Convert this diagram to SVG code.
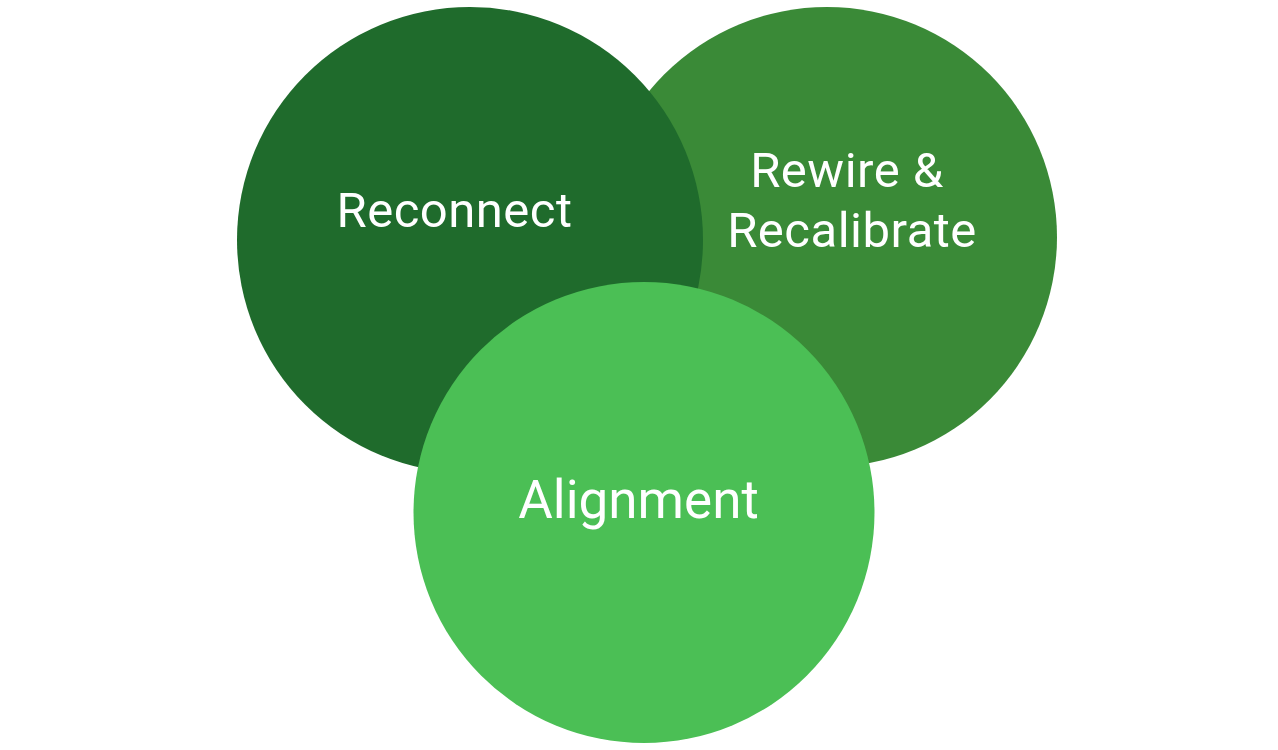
<svg xmlns="http://www.w3.org/2000/svg" width="1278" height="750" viewBox="0 0 1278 750">
<style>
.lbl{font-family:Roboto,"Liberation Sans",sans-serif;fill:#ffffff;text-anchor:middle}
.sm{font-size:49px;letter-spacing:0.5px}
</style>
<rect width="1278" height="750" fill="#ffffff"/>
<g id="node-rewire">
<circle cx="827" cy="237" r="230" fill="#3A8A37"/>
<text class="lbl sm" x="847" y="187">Rewire &amp;</text>
<text class="lbl sm" x="852" y="247">Recalibrate</text>
</g>
<g id="node-reconnect">
<circle cx="470" cy="240" r="233" fill="#1F6B2C"/>
<text class="lbl sm" x="454.5" y="227">Reconnect</text>
</g>
<g id="node-alignment">
<circle cx="644" cy="512.5" r="230.5" fill="#4BBF55"/>
<text class="lbl" x="638.5" y="518" font-size="53">Alignment</text>
</g>
<g id="connectors"></g>
</svg>
